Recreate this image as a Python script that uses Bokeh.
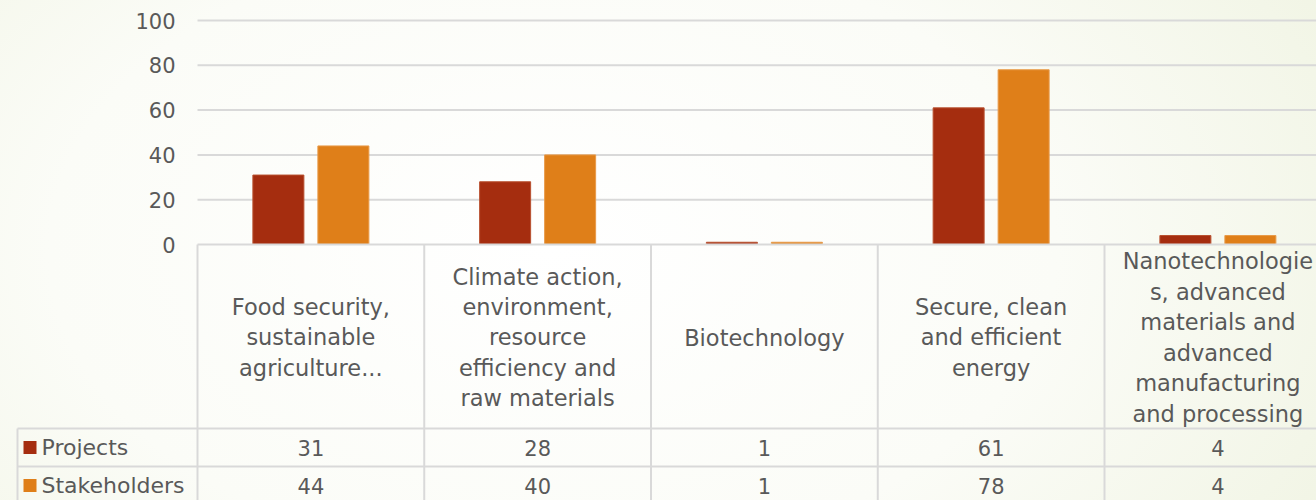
from bokeh.plotting import figure
from bokeh.models import Range1d
from bokeh.core.properties import value
from bokeh.embed import file_html
from bokeh.resources import INLINE

# ---- data ----
categories = [
    "Food security,\nsustainable\nagriculture...",
    "Climate action,\nenvironment,\nresource\nefficiency and\nraw materials",
    "Biotechnology",
    "Secure, clean\nand efficient\nenergy",
    "Nanotechnologie\ns, advanced\nmaterials and\nadvanced\nmanufacturing\nand processing",
]
series_names = ["Projects", "Stakeholders"]
projects = [31, 28, 1, 61, 4]
stakeholders = [44, 40, 1, 78, 4]
y_ticks = [0, 20, 40, 60, 80, 100]

colors = ["#a52d0f", "#df7f19"]
TEXT = "#595959"
LINE = "#d9d9d9"
FONT = value("DejaVu Sans")

# ---- geometry (pixels -> data units) ----
W, H = 1316, 500
PXX = 226.75   # px per category
PXY = 2.24     # px per unit value
FRAME_X0 = 197   # px of category 0 left edge
ZERO_Y = 244     # px of value 0
XL = -FRAME_X0 / PXX
XR = (W - FRAME_X0) / PXX
YT = ZERO_Y / PXY
YB = -(H - ZERO_Y) / PXY

def dx(px):
    return px / PXX

def dy(px):
    return px / PXY

p = figure(width=W, height=H, x_range=Range1d(XL, XR), y_range=Range1d(YB, YT),
           output_backend="svg", toolbar_location=None, min_border=0,
           x_axis_type=None, y_axis_type=None)
p.grid.visible = False
p.outline_line_color = None
p.background_fill_color = None
p.border_fill_color = None
p.styles = {"background": "radial-gradient(ellipse 85% 140% at 42% 50%, #ffffff 0%, #fbfcf7 45%, #ebf0d9 100%)"}

n = len(categories)
centers = [i + 0.5 for i in range(n)]

# gridlines (above zero)
gt = [t for t in y_ticks if t > 0]
p.segment(x0=[0] * len(gt), x1=[XR] * len(gt), y0=gt, y1=gt, line_color=LINE, line_width=2)

# y tick labels
p.text(x=[dx(-22)] * len(y_ticks), y=y_ticks, text=[str(t) for t in y_ticks],
       text_align="right", text_baseline="middle", text_font=FONT,
       text_font_size="21px", text_color=TEXT)

# bars
off = dx(32.5)
bw = dx(51)
p.vbar(x=[c - off for c in centers], top=projects, width=bw, bottom=0,
       fill_color=colors[0], line_color="#b8502f", line_width=1)
p.vbar(x=[c + off for c in centers], top=stakeholders, width=bw, bottom=0,
       fill_color=colors[1], line_color="#e89a48", line_width=1)

# ---- data table ----
row_top = [-dy(428 - 244), -dy(466 - 244), -dy(504 - 244)]
row_mid = [(row_top[0] + row_top[1]) / 2, (row_top[1] + row_top[2]) / 2]
xleft = dx(17 - 197)

# horizontal lines
p.segment(x0=[0], x1=[XR], y0=[0], y1=[0], line_color=LINE, line_width=2)
p.segment(x0=[xleft] * 3, x1=[XR] * 3, y0=row_top, y1=row_top, line_color=LINE, line_width=2)
# vertical lines
vx = list(range(n + 1))
p.segment(x0=vx, x1=vx, y0=[0] * len(vx), y1=[YB] * len(vx), line_color=LINE, line_width=2)
p.segment(x0=[xleft], x1=[xleft], y0=[row_top[0]], y1=[YB], line_color=LINE, line_width=2)

# category labels
p.text(x=centers, y=[-dy(337 - 244)] * n, text=categories, text_align="center",
       text_baseline="middle", text_font=FONT, text_font_size="22.5px",
       text_color=TEXT, text_line_height=1.17)

# legend column
p.scatter(x=[dx(29.5 - 197)] * 2, y=row_mid, marker="square", size=13,
          fill_color=colors, line_color=None)
p.text(x=[dx(41 - 197)] * 2, y=row_mid, text=series_names, text_align="left",
       text_baseline="middle", text_font=FONT, text_font_size="22px", text_color=TEXT)

# values
for vals, ym in zip([projects, stakeholders], row_mid):
    p.text(x=centers, y=[ym] * n, text=[str(v) for v in vals], text_align="center",
           text_baseline="middle", text_font=FONT, text_font_size="21px", text_color=TEXT)

open("out.html", "w").write(file_html(p, INLINE))
